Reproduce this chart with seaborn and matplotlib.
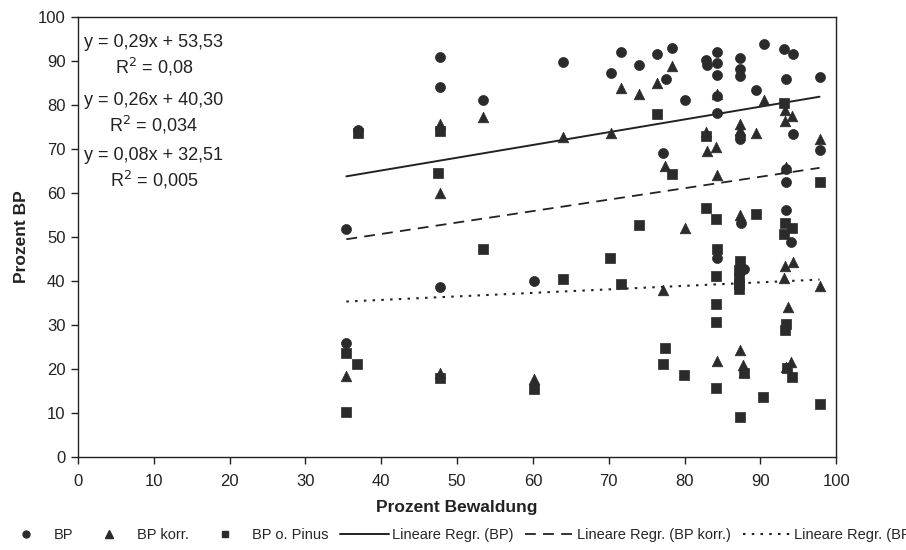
import numpy as np
import pandas as pd
import matplotlib
matplotlib.use("Agg")
import matplotlib.pyplot as plt
from matplotlib.lines import Line2D
import seaborn as sns

# --- data -----------------------------------------------------------------
bp_x = [35.4, 35.4, 36.9, 47.7, 47.7, 47.7, 53.4, 60.2, 64.0, 70.3, 71.6, 74.0,
        76.3, 78.4, 77.5, 77.2, 80.0, 82.8, 83.0, 84.3, 84.3, 84.3, 84.3, 84.3,
        84.3, 87.3, 87.3, 87.3, 89.4, 87.3, 87.3, 87.5, 87.9, 90.5, 93.1, 94.3,
        93.4, 94.3, 93.4, 93.4, 93.4, 94.0, 97.8, 97.8]
bp_y = [51.8, 26.0, 74.3, 91.0, 84.0, 38.7, 81.1, 40.1, 89.7, 87.2, 92.0, 89.1,
        91.7, 93.0, 86.0, 69.0, 81.1, 90.2, 89.1, 92.1, 89.5, 86.8, 82.0, 78.1,
        45.2, 90.8, 88.3, 86.6, 83.4, 73.0, 72.2, 53.3, 42.7, 93.8, 92.7, 91.6,
        85.9, 73.4, 65.4, 62.4, 56.1, 48.9, 86.3, 69.8]

korr_x = [35.4, 47.7, 47.7, 47.7, 53.4, 60.2, 64.0, 70.3, 71.6, 74.0, 76.3, 78.4,
          77.4, 77.1, 80.0, 82.8, 82.9, 84.1, 84.3, 84.3, 84.3, 87.3, 87.3, 89.4,
          87.3, 87.3, 87.7, 87.8, 90.5, 93.2, 94.2, 93.3, 93.4, 93.3, 94.3, 93.1,
          93.6, 94.0, 93.4, 97.8, 97.8]
korr_y = [18.5, 75.6, 59.9, 19.2, 77.2, 17.7, 72.8, 73.6, 83.8, 82.5, 85.1, 88.9,
          66.1, 38.0, 52.0, 73.8, 69.5, 70.4, 82.6, 64.2, 21.9, 75.8, 74.4, 73.6,
          55.0, 24.3, 20.9, 19.4, 81.1, 78.9, 77.5, 76.4, 65.9, 43.4, 44.4, 40.7,
          34.1, 21.7, 20.4, 72.3, 38.9]

pinus_x = [35.4, 35.4, 36.8, 36.9, 47.7, 47.5, 47.7, 53.4, 60.2, 64.0, 70.2, 71.6,
           74.0, 76.3, 78.3, 77.4, 77.1, 79.9, 82.8, 82.8, 84.2, 84.3, 84.2, 84.2,
           84.2, 84.2, 87.3, 87.2, 87.2, 87.2, 87.2, 89.4, 87.3, 87.8, 90.4, 93.1,
           93.3, 94.2, 93.1, 93.4, 93.3, 93.5, 94.2, 97.8, 97.8]
pinus_y = [23.7, 10.3, 21.1, 73.6, 74.2, 64.5, 18.0, 47.3, 15.4, 40.5, 45.2, 39.3,
           52.7, 78.0, 64.4, 24.7, 21.1, 18.6, 73.0, 56.5, 54.0, 47.2, 41.1, 34.8,
           30.8, 15.6, 44.6, 42.4, 40.7, 39.3, 38.3, 55.2, 9.2, 19.0, 13.7, 80.5,
           53.3, 52.0, 50.7, 30.3, 28.9, 20.2, 18.3, 62.6, 12.0]

series_names = ["BP", "BP korr.", "BP o. Pinus"]
slopes = [0.29, 0.26, 0.08]
intercepts = [53.53, 40.30, 32.51]
r2_labels = ["0,08", "0,034", "0,005"]
x_ticks = list(range(0, 101, 10))
y_ticks = list(range(0, 101, 10))

# --- style ----------------------------------------------------------------
sns.set_theme(style="white")
plt.rcParams["font.family"] = ["Liberation Sans", "DejaVu Sans"]

ink = "#2b2b2b"
txt = "#222222"

df = pd.concat([
    pd.DataFrame({"x": bp_x, "y": bp_y, "Reihe": series_names[0]}),
    pd.DataFrame({"x": korr_x, "y": korr_y, "Reihe": series_names[1]}),
    pd.DataFrame({"x": pinus_x, "y": pinus_y, "Reihe": series_names[2]}),
], ignore_index=True)

fig = plt.figure(figsize=(9.06, 5.5), dpi=100)
ax = fig.add_axes([0.086, 0.169, 0.837, 0.800])

marker_map = {"BP": "o", "BP korr.": "^", "BP o. Pinus": "s"}
size_map = {"BP": 52, "BP korr.": 58, "BP o. Pinus": 46}
for name in series_names:
    sub = df[df["Reihe"] == name]
    sns.scatterplot(data=sub, x="x", y="y", marker=marker_map[name],
                    s=size_map[name], color=ink, edgecolor=ink, linewidth=0.5,
                    legend=False, ax=ax, zorder=3)

# linear trend lines over the range of the data
line_styles = [dict(linestyle="-", linewidth=1.4),
               dict(linestyle=(0, (6, 4)), linewidth=1.3),
               dict(linestyle=(0, (1.2, 3.0)), linewidth=1.5)]
xs_all = [bp_x, korr_x, pinus_x]
for m, b, xs, ls in zip(slopes, intercepts, xs_all, line_styles):
    lx = np.array([min(xs), max(xs)])
    sns.lineplot(x=lx, y=m * lx + b, color=txt, ax=ax, zorder=2, **ls)

# equation labels
eq_y = [94.3, 81.1, 68.6]
for m, b, r2, yy in zip(slopes, intercepts, r2_labels, eq_y):
    eq = f"y = {m:.2f}x + {b:.2f}".replace(".", ",")
    ax.text(10.0, yy, eq, ha="center", va="center", fontsize=13, color=txt)
    ax.text(10.0, yy - 5.7, f"R$^2$ = {r2}", ha="center", va="center",
            fontsize=13, color=txt)

ax.set_xlim(0, 100)
ax.set_ylim(0, 100)
ax.set_xticks(x_ticks)
ax.set_yticks(y_ticks)
ax.set_xticklabels([str(t) for t in x_ticks], fontsize=12)
ax.set_yticklabels([str(t) for t in y_ticks], fontsize=12)
ax.tick_params(axis="both", direction="out", length=5, width=1, color=txt,
               colors=txt, left=True, bottom=True, pad=4)
ax.tick_params(axis="x", pad=7)
for sp in ax.spines.values():
    sp.set_visible(True)
    sp.set_color(txt)
    sp.set_linewidth(1.0)

ax.set_xlabel("Prozent Bewaldung", fontsize=12.5, fontweight="bold", labelpad=8,
              color=txt)
ax.set_ylabel("Prozent BP", fontsize=12.5, fontweight="bold", labelpad=6,
              color=txt)

# legend row along the bottom of the figure (runs past the right edge)
handles = [
    Line2D([], [], marker="o", linestyle="none", color=ink, markersize=5),
    Line2D([], [], marker="^", linestyle="none", color=ink, markersize=5.5),
    Line2D([], [], marker="s", linestyle="none", color=ink, markersize=4.5),
    Line2D([], [], color=txt, **line_styles[0]),
    Line2D([], [], color=txt, **line_styles[1]),
    Line2D([], [], color=txt, **line_styles[2]),
]
labels = series_names + ["Lineare Regr. (BP)", "Lineare Regr. (BP korr.)",
                         "Lineare Regr. (BP o. Pinus)"]
fig.legend(handles, labels, loc="center left", bbox_to_anchor=(-0.012, 0.027),
           ncol=6, frameon=False, handlelength=3.3, handletextpad=0.25,
           columnspacing=0.8, prop={"size": 10.5})

fig.savefig("out.png", dpi=100, facecolor="white")
